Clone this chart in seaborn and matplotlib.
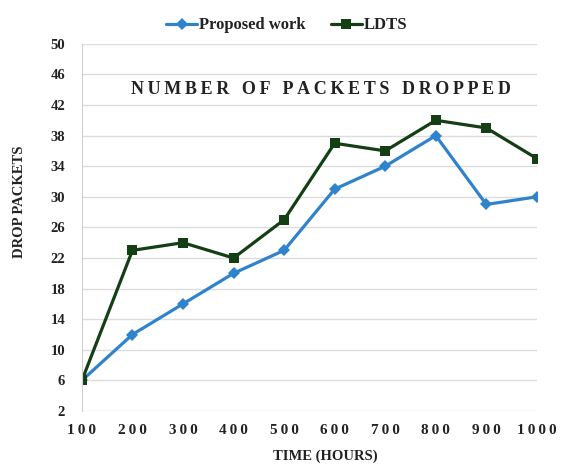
import matplotlib
matplotlib.use("Agg")
import matplotlib.pyplot as plt
import seaborn as sns
import pandas as pd

hours = [100, 200, 300, 400, 500, 600, 700, 800, 900, 1000]
proposed = [6, 12, 16, 20, 23, 31, 34, 38, 29, 30]
ldts = [6, 23, 24, 22, 27, 37, 36, 40, 39, 35]
y_ticks = list(range(2, 51, 4))
title = "NUMBER OF PACKETS DROPPED"

THIN = "\u2009"


def spaced(s, gap=THIN, word_gap="  "):
    """Spread the letters of a label apart."""
    return word_gap.join(gap.join(w) for w in s.split(" "))


df = pd.concat([
    pd.DataFrame({"hours": hours, "drops": proposed, "series": "Proposed work"}),
    pd.DataFrame({"hours": hours, "drops": ldts, "series": "LDTS"}),
])

sns.set_style("white")
plt.rcParams["font.family"] = ["Liberation Serif", "DejaVu Serif"]

fig = plt.figure(figsize=(5.61, 4.66), dpi=100)
ax = fig.add_axes([0.146, 0.118, 0.811, 0.788])

palette = {"Proposed work": "#2f82cc", "LDTS": "#143f14"}
markers = {"Proposed work": "D", "LDTS": "s"}
sns.lineplot(data=df, x="hours", y="drops", hue="series", style="series",
             palette=palette, markers=markers, dashes=False, linewidth=2.3,
             markersize=6.5, markeredgewidth=0, ax=ax)

ax.set_xlim(100, 1000)
ax.set_ylim(2, 50)
ax.set_xticks(hours)
ax.set_yticks(y_ticks)
ax.set_xticklabels([spaced(str(h)) for h in hours], fontsize=11, fontweight="bold")
ax.set_yticklabels([str(t) for t in y_ticks], fontsize=10.5, fontweight="bold")
ax.yaxis.grid(True, color="#dcdcdc", linewidth=1)
ax.xaxis.grid(False)
for side in ("top", "right", "bottom"):
    ax.spines[side].set_visible(False)
ax.spines["left"].set_color("#d0d0d0")
ax.tick_params(axis="x", length=0, pad=9, colors="#222222")
ax.tick_params(axis="y", length=0, pad=12, colors="#222222")

ax.set_xlabel("")
ax.set_ylabel("")
fig.text(0.58, 0.02, "TIME (HOURS)", ha="center", va="center",
         fontsize=10.5, fontweight="bold", color="#222222")
fig.text(0.035, 0.567, "DROP" + THIN + "PACKETS", ha="center",
         va="center", rotation=90, fontsize=10.5, fontweight="bold", color="#222222")

ax.text(0.525, 0.875, spaced(title, word_gap=" " + THIN + " "), transform=ax.transAxes,
        ha="center", va="center", fontsize=13, fontweight="bold", color="#222222")

handles, labels = ax.get_legend_handles_labels()
leg = ax.legend(handles, labels, loc="lower center", bbox_to_anchor=(0.45, 1.01),
                ncol=2, frameon=False, fontsize=12,
                handlelength=1.9, handletextpad=0.1, columnspacing=1.5, borderaxespad=0)
for t in leg.get_texts():
    t.set_fontweight("bold")
    t.set_color("#222222")

fig.savefig("out.png", dpi=100)
